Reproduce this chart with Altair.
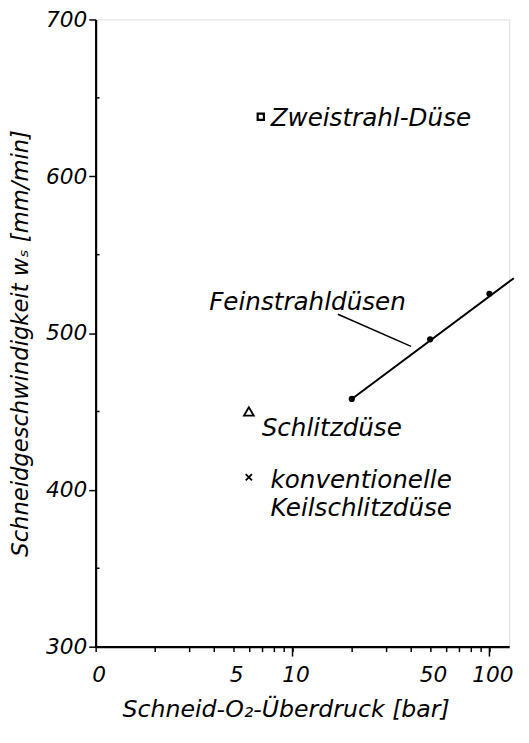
import altair as alt
import pandas as pd

# --- data ---
fine_x = [20, 50, 100]          # Feinstrahldüsen measured points
fine_y = [458, 496, 525]
fit_x = [20, 133]               # fitted line through Feinstrahldüsen
fit_y = [458, 535]
twin_x = [6.9]                  # Zweistrahl-Düse
twin_y = [638]
slot_x = [6.0]                  # Schlitzdüse
slot_y = [450]
conv_x = [6.0]                  # konventionelle Keilschlitzdüse
conv_y = [408]
leader_x = [17, 40]             # leader line for the Feinstrahldüsen label
leader_y = [512, 491.5]

y_major = [300, 400, 500, 600, 700]
y_minor = [350, 450, 550, 650]
x_ticks = [1, 2, 3, 4, 5, 6, 7, 8, 9, 10, 20, 30, 40, 50, 60, 70, 80, 90, 100]
x_decade = [10, 100]

FONT = "DejaVu Sans"
W, H = 420, 637

xs = alt.Scale(type="log", domain=[1, 126], nice=False)
ys = alt.Scale(domain=[300, 700], nice=False, zero=False)

x_axis = alt.Axis(
    values=x_ticks,
    labelExpr="datum.value == 1 ? '0' : ((datum.value == 5 || datum.value == 10 || datum.value == 50 || datum.value == 100) ? format(datum.value, 'd') : '')",
    labelOverlap=False, labelBound=False, labelFlush=False,
    tickSize=5, tickWidth=1.5, tickColor="black",
    domainColor="black", domainWidth=2.2,
    labelFont=FONT, labelFontSize=22, labelFontStyle="italic", labelColor="black",
    labelPadding=13, labelOffset=3,
    title="Schneid-O₂-Überdruck [bar]",
    titleFont=FONT, titleFontSize=24, titleFontStyle="italic", titleFontWeight="normal",
    titleColor="black", titleX=193, titleY=64, titleAlign="center", titleBaseline="middle",
    grid=False,
)
y_axis = alt.Axis(
    values=y_major, format="d",
    tickSize=7, tickWidth=1.5, tickColor="black",
    domainColor="black", domainWidth=2.2,
    labelFont=FONT, labelFontSize=22, labelFontStyle="italic", labelColor="black",
    labelPadding=2,
    title="Schneidgeschwindigkeit    wₛ  [mm/min]",
    titleFont=FONT, titleFontSize=23, titleFontStyle="italic", titleFontWeight="normal",
    titleColor="black", titleX=-76, titleY=H / 2 + 10, titleAlign="center", titleBaseline="middle",
    grid=False,
)

fit_df = pd.DataFrame({"x": fit_x, "y": fit_y})
fine_df = pd.DataFrame({"x": fine_x, "y": fine_y})
twin_df = pd.DataFrame({"x": twin_x, "y": twin_y, "label": ["Zweistrahl-Düse"]})
slot_df = pd.DataFrame({"x": slot_x, "y": slot_y, "label": ["Schlitzdüse"]})
conv_df = pd.DataFrame({"x": conv_x, "y": conv_y, "label": ["konventionelle\nKeilschlitzdüse"]})
leader_df = pd.DataFrame({"x": leader_x, "y": leader_y})
fein_lab_df = pd.DataFrame({"x": leader_x[:1], "y": leader_y[:1], "label": ["Feinstrahldüsen"]})
ymin_df = pd.DataFrame({"y": y_minor})
xdec_df = pd.DataFrame({"x": x_decade})

fit = alt.Chart(fit_df).mark_line(color="black", strokeWidth=2).encode(
    x=alt.X("x:Q", scale=xs, axis=x_axis),
    y=alt.Y("y:Q", scale=ys, axis=y_axis),
)

X = lambda: alt.X("x:Q", scale=xs)
Y = lambda: alt.Y("y:Q", scale=ys)

dots = alt.Chart(fine_df).mark_circle(color="black", size=40, opacity=1).encode(x=X(), y=Y())
leader = alt.Chart(leader_df).mark_line(color="black", strokeWidth=1.6).encode(x=X(), y=Y())

twin = alt.Chart(twin_df).mark_point(shape="square", filled=False, color="black", opacity=1, size=40, strokeWidth=2.2).encode(x=X(), y=Y())
slot = alt.Chart(slot_df).mark_point(shape="triangle-up", filled=False, color="black", opacity=1, size=100, strokeWidth=1.8).encode(x=X(), y=Y())
conv = alt.Chart(conv_df).mark_point(shape="M-1,-1L1,1M-1,1L1,-1", filled=False, color="black", opacity=1, size=40, strokeWidth=1.8).encode(x=X(), y=Y())

txt = dict(font=FONT, fontSize=25, fontStyle="italic", color="black")
twin_t = alt.Chart(twin_df).mark_text(align="left", baseline="middle", dx=10, dy=1, **txt).encode(x=X(), y=Y(), text="label:N")
slot_t = alt.Chart(slot_df).mark_text(align="left", baseline="middle", dx=13, dy=17, **txt).encode(x=X(), y=Y(), text="label:N")
conv_t = alt.Chart(conv_df).mark_text(align="left", baseline="alphabetic", dx=22, dy=11, lineBreak="\n", lineHeight=28, **txt).encode(x=X(), y=Y(), text="label:N")
fein_t = alt.Chart(fein_lab_df).mark_text(align="right", baseline="middle", dx=69, dy=-12, **txt).encode(x=X(), y=Y(), text="label:N")

yminor = alt.Chart(ymin_df).mark_rule(color="black", strokeWidth=1.5).encode(
    y=Y(), x=alt.value(0), x2=alt.value(4)
)
xdecade = alt.Chart(xdec_df).mark_rule(color="black", strokeWidth=1.5).encode(
    x=X(), y=alt.value(H), y2=alt.value(H + 10)
)

chart = alt.layer(
    fit, leader, dots, twin, slot, conv, twin_t, slot_t, conv_t, fein_t, yminor, xdecade
).properties(
    width=W, height=H,
    autosize="none",
    padding={"left": 89, "top": 6, "right": 12, "bottom": 80},
).configure_view(stroke=None).configure(background="white")

chart.save("out.html", embed_options={"renderer": "svg", "actions": False})
